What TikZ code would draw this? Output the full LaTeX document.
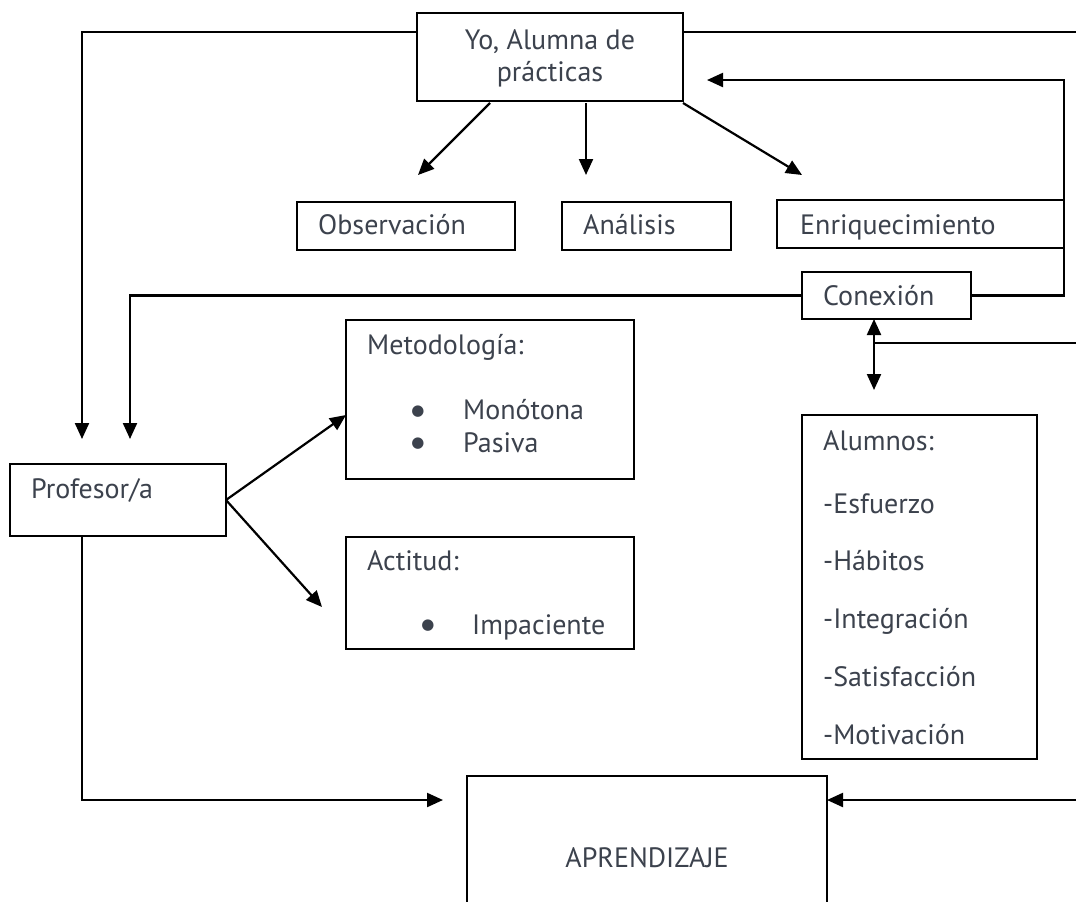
\documentclass[tikz,border=0pt]{standalone}
\usepackage{fontspec}
\setmainfont{PT Sans}
\newfontfamily\bulfont{DejaVu Sans}
\usetikzlibrary{arrows.meta}
\definecolor{txt}{RGB}{60,66,77}
\tikzset{
  box/.style={draw=black, line width=2pt, rectangle, inner sep=0pt, outer sep=0pt},
  conn/.style={draw=black, line width=2.2pt},
  arr/.style={conn, -{Triangle[length=16pt,width=14pt]}},
  darr/.style={conn, {Triangle[length=16pt,width=14pt]}-{Triangle[length=16pt,width=14pt]}},
  lbl/.style={text=txt, font=\fontsize{28}{32}\selectfont, inner sep=0pt, anchor=base west},
  lblc/.style={lbl, anchor=base},
  bul/.style={text=txt, font=\bulfont\fontsize{15}{15}\selectfont, inner sep=0pt, anchor=center}
}
\begin{document}
\begin{tikzpicture}[x=1pt,y=-1pt]
\useasboundingbox (0,0) rectangle (1076,902);
\clip (0,0) rectangle (1076,902);
\fill[white] (0,0) rectangle (1076,902);

% boxes
\node[box, minimum width=266pt, minimum height=88pt] (yo) at (550,57) {};
\node[box, minimum width=218pt, minimum height=48pt] (obs) at (406,226) {};
\node[box, minimum width=169pt, minimum height=48pt] (ana) at (646.5,226) {};
\node[box, minimum width=287pt, minimum height=48pt] (enr) at (920.5,224) {};
\node[box, minimum width=169pt, minimum height=47pt] (con) at (886.5,295.5) {};
\node[box, minimum width=288pt, minimum height=159pt] (met) at (490,399.5) {};
\node[box, minimum width=288pt, minimum height=112pt] (act) at (490,593) {};
\node[box, minimum width=216pt, minimum height=72pt] (prof) at (118,500) {};
\node[box, minimum width=235pt, minimum height=344pt] (alu) at (919.5,587) {};
\node[box, minimum width=360pt, minimum height=154pt] (apr) at (647,853) {};

% texts
\node[lblc] (yo1) at (550,49) {Yo, Alumna de};
\node[lblc] (yo2) at (550,81) {prácticas};
\node[lbl] (obst) at (318,234) {Observación};
\node[lbl] (anat) at (583,234) {Análisis};
\node[lbl] (enrt) at (800,234) {Enriquecimiento};
\node[lbl] (cont) at (823,305) {Conexión};
\node[lbl] (mett) at (367,354) {Metodología:};
\node[bul] (b1) at (418,412) {●};
\node[lbl] (m1) at (463,419) {Monótona};
\node[bul] (b2) at (418,444) {●};
\node[lbl] (m2) at (463,452) {Pasiva};
\node[lbl] (actt) at (367,570) {Actitud:};
\node[bul] (b3) at (428,626) {●};
\node[lbl] (a1) at (472,634) {Impaciente};
\node[lbl] (proft) at (31,498) {Profesor/a};
\node[lbl] (alut) at (823,450) {Alumnos:};
\node[lbl] (al1) at (823,513) {-Esfuerzo};
\node[lbl] (al2) at (823,570) {-Hábitos};
\node[lbl] (al3) at (823,628) {-Integración};
\node[lbl] (al4) at (823,686) {-Satisfacción};
\node[lbl] (al5) at (823,744) {-Motivación};
\node[lblc] (aprt) at (647,867) {APRENDIZAJE};

% free ends
\coordinate (t1) at (82,439);
\coordinate (r1) at (1076,32);
\coordinate (c1) at (1064,80);
\coordinate (t3) at (707,80);
\coordinate (t4) at (130,439);
\coordinate (t5) at (874,390);
\coordinate (j6) at (874,343);
\coordinate (r6) at (1076,343);
\coordinate (t7) at (418,175);
\coordinate (t8) at (586,175);
\coordinate (t9) at (802,175);
\coordinate (t10) at (322,607);
\coordinate (t11) at (443,800);
\coordinate (r10) at (1076,800);

% connectors
\draw[arr] ([yshift=-19pt]yo.north west) -| (t1);
\draw[conn] ([yshift=-19pt]yo.north east) -- (r1);
\draw[arr] (con.east) -| (c1) -- (t3);
\draw[arr] (con.west) -| (t4);
\draw[darr] ([xshift=-12.5pt]con.south) -- (t5);
\draw[conn] (j6) -- (r6);
\draw[arr] ([xshift=73pt,yshift=-2pt]yo.south west) -- (t7);
\draw[arr] ([xshift=169pt,yshift=-2pt]yo.south west) -- (t8);
\draw[arr] ([yshift=-2pt]yo.south east) -- (t9);
\draw[arr] (prof.east) -- ([yshift=-15.5pt]met.west);
\draw[arr] (prof.east) -- (t10);
\draw[arr] ([xshift=-36pt]prof.south) |- (t11);
\draw[arr] (r10) -- ([yshift=-24pt]apr.north east);
\end{tikzpicture}
\end{document}
